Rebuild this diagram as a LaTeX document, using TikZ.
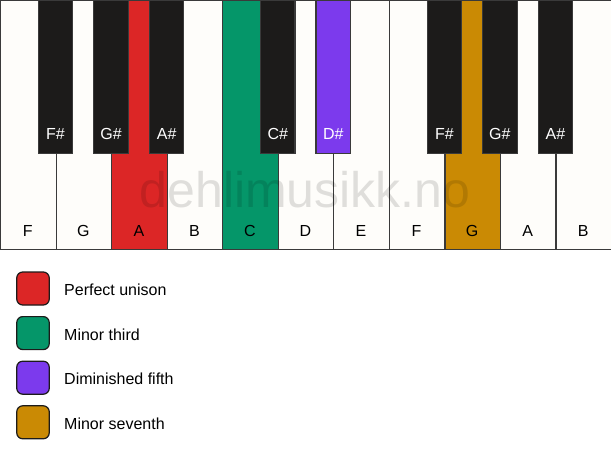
\documentclass[tikz,border=0pt]{standalone}
\usepackage{fontspec}
\setmainfont{Liberation Sans}
\definecolor{keyred}{HTML}{DC2626}
\definecolor{keygreen}{HTML}{059669}
\definecolor{keypurple}{HTML}{7C3AED}
\definecolor{keygold}{HTML}{CA8A04}
\definecolor{ivory}{HTML}{FEFDFA}
\definecolor{ebony}{HTML}{1C1B1A}
\definecolor{edge}{HTML}{3A3A3A}
\tikzset{
  whitekey/.style={draw=edge, line width=1.2pt, fill=ivory, rectangle, inner sep=0pt,
    minimum width=55.545pt, minimum height=249pt, anchor=north west},
  blackkey/.style={draw=edge, line width=1.2pt, fill=ebony, rectangle, inner sep=0pt,
    minimum width=34.5pt, minimum height=153pt, anchor=north},
  wlabel/.style={anchor=base, inner sep=0pt, font=\fontsize{16}{19}\selectfont, text=black},
  blabel/.style={anchor=base, inner sep=0pt, font=\fontsize{16}{19}\selectfont, text=white},
  swatch/.style={draw=ebony, line width=1.2pt, rectangle, rounded corners=6pt,
    minimum width=32.5pt, minimum height=33pt, inner sep=0pt},
  legtext/.style={anchor=base west, inner sep=0pt, font=\fontsize{16}{19}\selectfont},
  watermark/.style={anchor=base, inner sep=0pt, font=\fontsize{50}{60}\selectfont,
    text=black, text opacity=0.12}
}
\begin{document}
\begin{tikzpicture}[x=1pt, y=-1pt]
\useasboundingbox[fill=white] (0,0) rectangle (611,461);
% white keys
\foreach \i/\n/\c in {0/F/ivory,1/G/ivory,2/A/keyred,3/B/ivory,4/C/keygreen,5/D/ivory,6/E/ivory,7/F/ivory,8/G/keygold,9/A/ivory,10/B/ivory}{
  \node[whitekey, fill=\c] (w\i) at ({\i*55.545},0) {};
  \node[wlabel] (wl\i) at ({\i*55.545+27.77},236) {\n};
}
% black keys
\foreach \i/\n/\c in {1/F\#/ebony,2/G\#/ebony,3/A\#/ebony,5/C\#/ebony,6/D\#/keypurple,8/F\#/ebony,9/G\#/ebony,10/A\#/ebony}{
  \node[blackkey, fill=\c] (b\i) at ({\i*55.545},0) {};
  \node[blabel] (bl\i) at ({\i*55.545},139) {\n};
}
% watermark
\node[watermark] (wm) at (305,207) {dehlimusikk.no};
% legend
\foreach \k/\c/\t in {0/keyred/Perfect unison,1/keygreen/Minor third,2/keypurple/Diminished fifth,3/keygold/Minor seventh}{
  \node[swatch, fill=\c] (s\k) at (33,{288.5+\k*44.6}) {};
  \node[legtext] (t\k) at (64,{295.5+\k*44.6}) {\t};
}
\end{tikzpicture}
\end{document}
